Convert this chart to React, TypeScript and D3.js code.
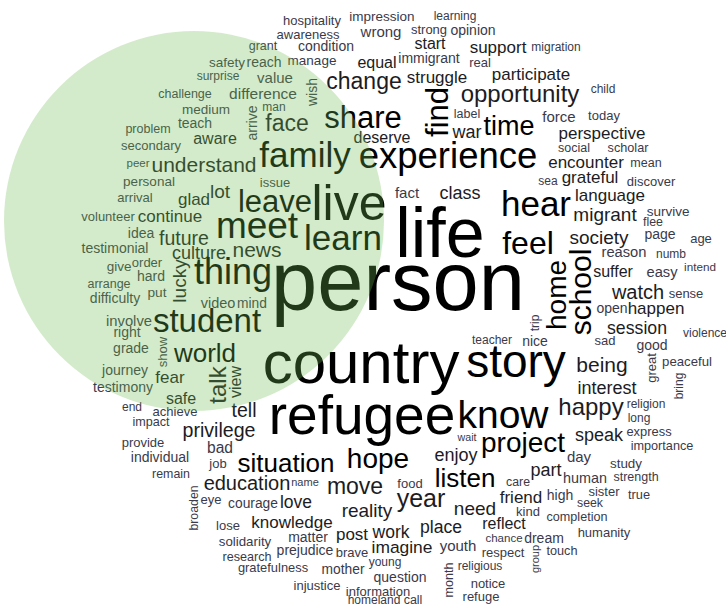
import * as d3 from "d3";

// [word, weight (px), layout x, layout y, vertical?]
type Word = [string, number, number, number, number?];

const topWords: Word[] = [
  ["hospitality", 13, 312, 20], ["impression", 13.5, 382, 16], ["learning", 12, 455, 16],
  ["awareness", 13, 308, 34], ["wrong", 15, 381, 32], ["strong", 13, 429, 29],
  ["opinion", 14, 473, 30], ["condition", 14, 326, 46], ["start", 16, 430, 43],
  ["support", 17, 498, 47], ["migration", 12, 556, 47], ["grant", 12.5, 263, 46],
  ["manage", 13.5, 312, 60], ["equal", 16, 377, 62], ["immigrant", 14, 429, 58],
  ["real", 13, 480, 62], ["safety", 13.5, 227, 62], ["reach", 14, 264, 62],
  ["surprise", 12, 218, 76], ["value", 15, 275, 78], ["wish", 14, 312, 92, 1],
  ["change", 23, 364, 81], ["struggle", 17, 437, 77], ["participate", 17, 531, 74],
  ["challenge", 12.5, 185, 94], ["difference", 15.5, 263, 94], ["medium", 13.5, 206, 109],
  ["man", 12, 274, 107], ["arrive", 14, 252, 123, 1], ["opportunity", 24, 520, 94],
  ["child", 12, 603, 89], ["find", 31, 437, 112, 1], ["share", 31, 363, 117],
  ["label", 12.5, 467, 114], ["war", 18, 467, 132], ["time", 27, 509, 126],
  ["force", 15, 559, 117], ["today", 13, 604, 115], ["teach", 14, 195, 123],
  ["problem", 12.5, 148, 129], ["aware", 16, 215, 138], ["secondary", 13, 151, 145],
  ["face", 23, 287, 123], ["perspective", 17, 602, 133], ["deserve", 16, 382, 137],
  ["social", 12.5, 574, 148], ["scholar", 12.7, 628, 148],
];

const middleWords: Word[] = [
  ["experience", 36.5, 448, 155], ["family", 35, 305, 155], ["encounter", 17, 586, 162],
  ["mean", 12.5, 646, 163], ["understand", 21, 204, 165], ["peer", 11.5, 138, 163],
  ["grateful", 17, 590, 177], ["sea", 12, 548, 181], ["discover", 13, 651, 181],
  ["personal", 13.5, 149, 181], ["issue", 13, 275, 182], ["arrival", 13, 135, 197],
  ["glad", 17, 194, 199], ["lot", 19, 220, 191], ["leave", 31, 275, 201],
  ["live", 50, 349, 202], ["fact", 15, 407, 193], ["class", 18, 460, 193],
  ["life", 70, 440, 232], ["hear", 35, 536, 204], ["language", 17, 610, 195],
  ["survive", 13.5, 668, 211], ["migrant", 19, 605, 214], ["flee", 12.4, 653, 222],
  ["volunteer", 13, 108, 216], ["continue", 17, 170, 216], ["meet", 37, 257, 225],
  ["learn", 35, 343, 238], ["feel", 32, 528, 243], ["idea", 14, 141, 233],
  ["future", 19.5, 184, 238], ["testimonial", 14, 115, 248], ["page", 14, 660, 234],
  ["age", 13, 701, 238], ["society", 19, 599, 237], ["culture", 18, 199, 253],
  ["news", 21, 257, 250], ["reason", 14.7, 624, 252], ["numb", 12, 671, 254],
  ["intend", 11.7, 700, 267], ["give", 13.5, 119, 266], ["order", 13, 147, 262],
  ["thing", 36, 233, 271], ["lucky", 19, 179, 281, 1], ["hard", 14, 151, 276],
  ["arrange", 12.5, 109, 284], ["put", 13.7, 157, 292], ["difficulty", 14, 115, 298],
  ["video", 14.5, 218, 303], ["mind", 13.8, 252, 303], ["person", 83, 398, 281],
  ["school", 30, 580, 292, 1], ["home", 28, 556, 295, 1], ["suffer", 16, 613, 271],
  ["easy", 14.7, 662, 272], ["watch", 20, 638, 292], ["sense", 13, 686, 293],
  ["open", 14, 612, 308], ["happen", 17, 656, 308],
];

const lowerWords: Word[] = [
  ["student", 33, 207, 320], ["involve", 14.8, 129, 321], ["right", 14, 127, 332],
  ["grade", 14, 131, 348], ["show", 13, 162, 352, 1], ["world", 26, 205, 353],
  ["talk", 24, 218, 385, 1], ["view", 16, 235, 382, 1], ["journey", 14, 125, 370],
  ["fear", 17, 170, 377], ["testimony", 14, 123, 387], ["safe", 16, 181, 398],
  ["end", 12, 132, 407], ["achieve", 13, 175, 411], ["tell", 19.5, 244, 410],
  ["impact", 12.6, 151, 422], ["privilege", 19.6, 219, 430], ["provide", 13, 143, 442],
  ["bad", 15.6, 220, 448], ["country", 60, 361, 362], ["refugee", 55, 362, 415],
  ["know", 39, 503, 414], ["story", 46, 516, 361], ["teacher", 12, 492, 340],
  ["trip", 12, 535, 323, 1], ["nice", 14, 535, 341], ["sad", 13, 605, 340],
  ["session", 17.7, 637, 328], ["violence", 12, 705, 333], ["good", 14, 652, 345],
  ["great", 13, 651, 368, 1], ["peaceful", 13.2, 687, 361], ["being", 21, 602, 365],
  ["bring", 12, 679, 386, 1], ["interest", 18, 607, 388], ["happy", 24, 591, 407],
  ["religion", 12, 646, 404], ["long", 12, 639, 418], ["express", 12.9, 649, 431],
  ["project", 28, 523, 442], ["speak", 18, 599, 435], ["importance", 12.7, 662, 446],
  ["wait", 10.7, 467, 437], ["enjoy", 18, 456, 455],
];

const bottomWords: Word[] = [
  ["situation", 26, 286, 463], ["hope", 28, 378, 458], ["individual", 14, 160, 457],
  ["job", 13, 218, 463], ["remain", 12.4, 171, 474], ["education", 20, 247, 483],
  ["name", 11, 305, 482], ["listen", 26, 465, 478], ["broaden", 12.3, 194, 508, 1],
  ["eye", 13, 211, 499], ["courage", 13.8, 253, 503], ["love", 17.5, 296, 502],
  ["move", 23, 355, 486], ["food", 13, 410, 483], ["year", 25, 421, 498],
  ["reality", 19, 367, 510], ["need", 19, 475, 508], ["friend", 17, 521, 497],
  ["part", 18, 546, 470], ["day", 15, 579, 457], ["study", 13.4, 626, 463],
  ["care", 12.3, 518, 482], ["human", 14.4, 585, 478], ["strength", 12.5, 636, 477],
  ["high", 14, 560, 495], ["sister", 13, 604, 491], ["true", 12.8, 639, 495],
  ["seek", 12.3, 590, 503], ["kind", 13, 528, 511], ["completion", 12.6, 577, 517],
  ["reflect", 16, 504, 523], ["humanity", 13, 604, 532], ["chance", 11.5, 504, 538],
  ["dream", 14, 544, 538], ["respect", 13, 503, 552], ["group", 11, 535, 559, 1],
  ["touch", 12.7, 562, 551], ["knowledge", 17, 292, 522], ["lose", 13, 228, 525],
  ["matter", 14, 308, 537], ["post", 17, 352, 534], ["work", 17.5, 391, 532],
  ["place", 17.6, 441, 527], ["solidarity", 13.3, 245, 541], ["prejudice", 14, 305, 550],
  ["brave", 13, 352, 552], ["imagine", 17.4, 402, 547], ["youth", 15, 458, 546],
  ["research", 12.6, 247, 557], ["gratefulness", 12.9, 273, 567], ["young", 12, 385, 562],
  ["mother", 13.8, 343, 569], ["month", 12.6, 449, 580, 1], ["religious", 12, 480, 566],
  ["question", 14, 400, 577], ["notice", 13, 488, 583], ["injustice", 13, 317, 585],
  ["information", 13, 378, 591], ["refuge", 13, 481, 596], ["homeland", 12, 374, 600],
  ["call", 12.5, 413, 600],
];

// highlighted cluster (layout units)
const highlight = { cx: 194, cy: 221, r: 190 };

const width = 726;
const height = 608;

export default function App() {
  const words = [...topWords, ...middleWords, ...lowerWords, ...bottomWords];

  const x = d3.scaleLinear().domain([0, 726]).range([0, width]);
  const y = d3.scaleLinear().domain([0, 608]).range([0, height]);
  const fontSize = d3.scaleLinear().domain([10, 83]).range([10, 83]);
  const color = d3
    .scaleThreshold<number, string>()
    .domain([16, 26])
    .range(["#3a3a4a", "#1c1c24", "#000000"]);

  return (
    <svg
      width={width}
      height={height}
      style={{ position: "absolute", left: 0, top: 0 }}
      fontFamily="'Liberation Sans', Arial, Helvetica, sans-serif"
    >
      <rect width={width} height={height} fill="#ffffff" />
      {words.map(([w, s, cx, cy, v], i) => (
        <text
          key={i}
          transform={`translate(${x(cx)},${y(cy)}) rotate(${v ? -90 : 0})`}
          textAnchor="middle"
          dy="0.35em"
          fontSize={fontSize(s)}
          fill={color(s)}
        >
          {w}
        </text>
      ))}
      <circle
        cx={x(highlight.cx)}
        cy={y(highlight.cy)}
        r={x(highlight.r) - x(0)}
        fill="rgb(110,190,80)"
        fillOpacity={0.3}
      />
    </svg>
  );
}
